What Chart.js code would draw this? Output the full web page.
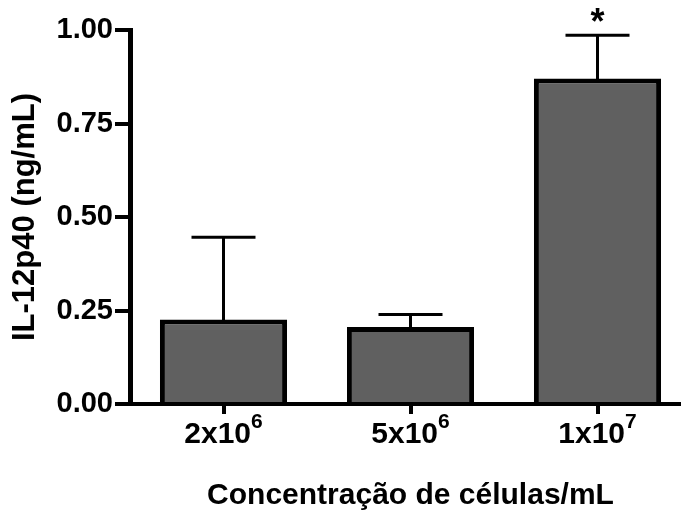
<!DOCTYPE html>
<html><head><meta charset="utf-8">
<script src="https://cdn.jsdelivr.net/npm/chart.js@4"></script>
<style>
html,body{margin:0;padding:0;background:#fff;overflow:hidden;}
#wrap{width:691px;height:511px;position:relative;}
</style></head><body>
<div id="wrap"><canvas id="c"></canvas></div>
<script>
// ---- data ----
const labelBase = ['2x10', '5x10', '1x10'];
const labelExp = ['6', '6', '7'];
const categories = ['2x10\u2076', '5x10\u2076', '1x10\u2077'];
const means = [0.226, 0.206, 0.870];
const upperErrors = [0.220, 0.033, 0.116];
const marks = ['', '', '*'];
const yTickValues = [0, 0.25, 0.5, 0.75, 1.0];
const yTitle = 'IL-12p40 (ng/mL)';
const xTitle = 'Concentração de células/mL';

const FONT = '"Liberation Sans", Arial, Helvetica, sans-serif';

const extras = {
  id: 'extras',
  afterDatasetsDraw(chart) {
    const ctx = chart.ctx, y = chart.scales.y;
    const meta = chart.getDatasetMeta(0);
    ctx.save();
    ctx.strokeStyle = '#000';
    ctx.lineWidth = 3;
    meta.data.forEach((bar, i) => {
      const cx = bar.x;
      const top = y.getPixelForValue(means[i]);
      const hi = y.getPixelForValue(means[i] + upperErrors[i]);
      ctx.beginPath();
      ctx.moveTo(cx, top + 2); ctx.lineTo(cx, hi);
      ctx.moveTo(cx - 32, hi); ctx.lineTo(cx + 32, hi);
      ctx.stroke();
      if (marks[i]) {
        ctx.fillStyle = '#000';
        ctx.font = 'bold 36px ' + FONT;
        ctx.textAlign = 'center';
        ctx.textBaseline = 'alphabetic';
        ctx.fillText(marks[i], cx, hi - 1);
      }
    });
    ctx.restore();
  },
  afterDraw(chart) {
    const ctx = chart.ctx, x = chart.scales.x;
    ctx.save();
    ctx.fillStyle = '#000';
    ctx.textAlign = 'left';
    ctx.textBaseline = 'alphabetic';
    labelBase.forEach((b, i) => {
      const cx = x.getPixelForValue(i);
      ctx.font = 'bold 30px ' + FONT;
      const wb = ctx.measureText(b).width;
      ctx.font = 'bold 21px ' + FONT;
      const we = ctx.measureText(labelExp[i]).width;
      const x0 = cx - (wb + we) / 2;
      ctx.font = 'bold 30px ' + FONT;
      ctx.fillText(b, x0, 443);
      ctx.font = 'bold 21px ' + FONT;
      ctx.fillText(labelExp[i], x0 + wb, 428);
    });
    ctx.restore();
  }
};

new Chart(document.getElementById('c'), {
  type: 'bar',
  data: {
    labels: categories,
    datasets: [{
      data: means,
      backgroundColor: '#606060',
      borderColor: '#000',
      borderWidth: 5,
      borderSkipped: 'start',
      categoryPercentage: 1.0,
      barPercentage: 0.68
    }]
  },
  options: {
    responsive: true,
    maintainAspectRatio: false,
    animation: false,
    events: [],
    layout: { padding: { top: 30, left: 0, right: 0, bottom: 0 } },
    plugins: { legend: { display: false }, tooltip: { enabled: false } },
    scales: {
      x: {
        z: 1,
        afterFit(s) { s.height = 107; },
        grid: { display: true, drawOnChartArea: false, drawTicks: true, tickLength: 10, lineWidth: 4, color: '#000', offset: false },
        border: { display: true, color: '#000', width: 4 },
        ticks: { display: false },
        title: { display: true, text: xTitle, color: '#000', font: { family: FONT, size: 30, weight: 'bold', lineHeight: 1.0 }, padding: { top: 0, bottom: 0 } }
      },
      y: {
        min: 0, max: 1,
        afterFit(s) { s.width = 130; },
        afterBuildTicks(s) { s.ticks = yTickValues.map(v => ({ value: v })); },
        grid: { display: true, drawOnChartArea: false, drawTicks: true, tickLength: 15, lineWidth: 4, color: '#000' },
        border: { display: true, color: '#000', width: 5 },
        ticks: { color: '#000', padding: 2, font: { family: FONT, size: 29, weight: 'bold' }, callback: v => Number(v).toFixed(2) },
        title: { display: true, text: yTitle, color: '#000', font: { family: FONT, size: 31, weight: 'bold', lineHeight: 1.2 }, padding: { top: 7, bottom: 0 } }
      }
    }
  },
  plugins: [extras]
});
</script>
</body></html>
